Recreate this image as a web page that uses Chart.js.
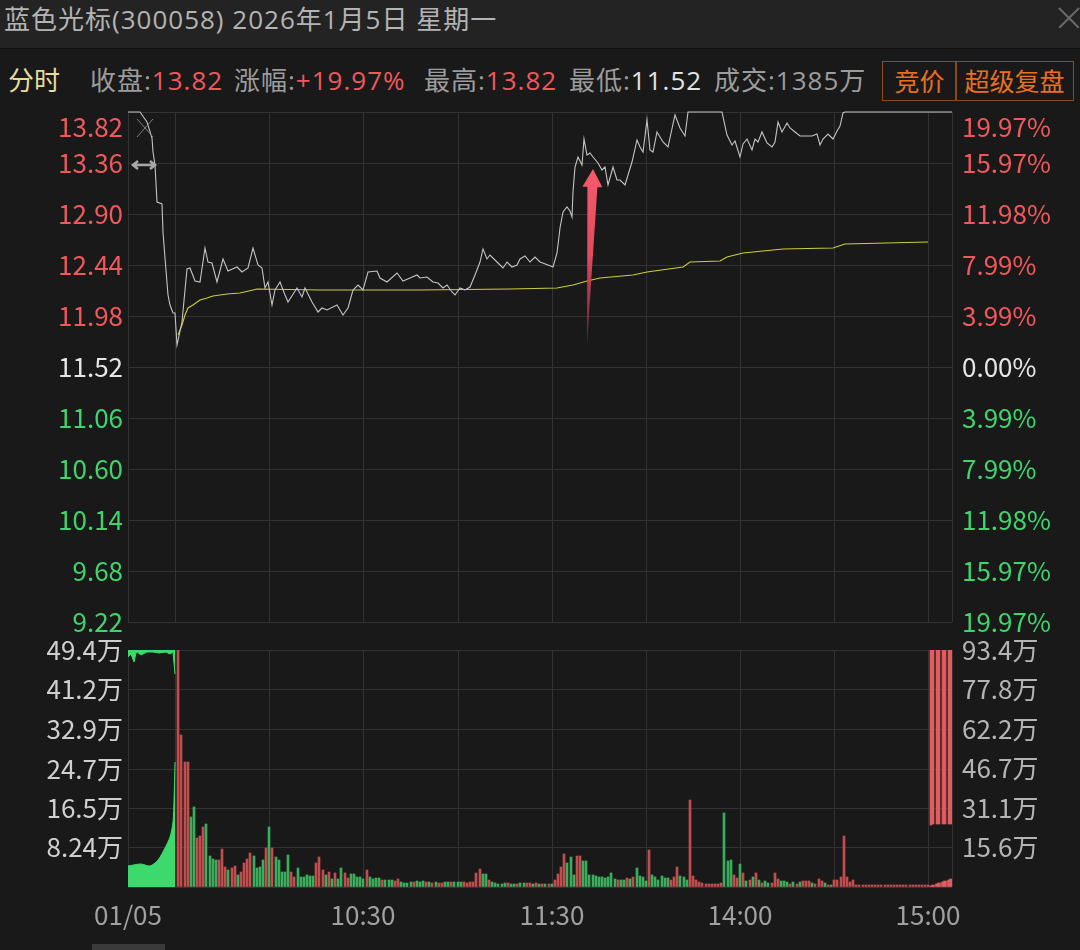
<!DOCTYPE html>
<html>
<head>
<meta charset="utf-8">
<script src="https://cdn.jsdelivr.net/npm/chart.js@4.4.1/dist/chart.umd.min.js"></script>
<style>
body { margin:0; width:1080px; height:950px; overflow:hidden; position:relative; background:#191919;
  font-family:"Open Sans","Noto Sans CJK SC",sans-serif; }
#bar { position:absolute; left:0; top:0; width:1080px; height:48px; background:#232323; border-bottom:1px solid #111; }
#title { position:absolute; left:4px; top:0; line-height:38px; font-size:26px; color:#b4b4b4; white-space:nowrap; letter-spacing:1px; }
.x1, .x2 { position:absolute; left:1055px; top:17px; width:28px; height:1.5px; background:#6a6a6a; }
.x1 { transform:rotate(45deg); } .x2 { transform:rotate(-45deg); }
.info { position:absolute; top:62px; line-height:36px; font-size:26px; color:#9c9c9c; white-space:nowrap; letter-spacing:1px; }
.red { color:#f0585c; } .wht { color:#e4e4e4; }
.box { position:absolute; top:61px; height:38px; line-height:37px; font-size:25px; color:#e8701e;
  border:1px solid #8c4a1c; text-align:center; font-family:"Noto Sans CJK SC",sans-serif; }
#scroll { position:absolute; left:92px; top:944px; width:73px; height:6px; background:#3a3a3a; }
.cv { position:absolute; left:0; }
</style>
</head>
<body>
<div id="bar"><div id="title">蓝色光标(300058) 2026年1月5日 星期一</div><div class="x1"></div><div class="x2"></div></div>
<div class="info" style="left:8px;color:#e6dc9c;letter-spacing:0">分时</div>
<div class="info" style="left:90px">收盘:<span class="red">13.82</span></div>
<div class="info" style="left:234px">涨幅:<span class="red">+19.97%</span></div>
<div class="info" style="left:424px">最高:<span class="red">13.82</span></div>
<div class="info" style="left:569px">最低:<span class="wht">11.52</span></div>
<div class="info" style="left:714px">成交:1385万</div>
<div class="box" style="left:882px;width:73px">竞价</div>
<div class="box" style="left:955px;width:117px">超级复盘</div>
<canvas id="price" class="cv" style="top:100px" width="1080" height="540"></canvas>
<canvas id="volume" class="cv" style="top:625px" width="1080" height="325"></canvas>
<div id="scroll"></div>
<script>
const FONT = '"Noto Sans CJK SC","Microsoft YaHei",sans-serif';
const GRID = '#333333';
const RED = '#c24d4e';
const GREEN = '#3aae5c';

// x axis: minutes from 9:30 (auction drawn in -15..0, after-hours in 240..247.5)
const xGridMin = [-15, 0, 30, 60, 90, 120, 150, 180, 210, 240, 247.5];
const xGridLabel = ['01/05', '', '', '10:30', '', '11:30', '', '14:00', '', '15:00', ''];

const preClose = 11.52;
const priceTicks = [9.22, 9.68, 10.14, 10.60, 11.06, 11.52, 11.98, 12.44, 12.90, 13.36, 13.82];

// price line (auction part first, then trading minutes)
const priceMin = [-15, -11.2, -9, -7.3, -7, -6.4, -5.8, -4.2, -3.8, -3.2, -2.2, -1.6, -0.7, -0.1,
  0.6, 2.2, 3.8, 4.7, 6.3, 7.9, 9.5, 10.5, 11.8, 13.4,
  15.3, 16.9, 19.7, 21.3, 23.2, 24.8, 26.4, 27.7, 28.6, 29.6,
  30.9, 31.8, 33.4, 35, 36, 38.8, 40.4, 41.4, 43.6, 45.5,
  46.8, 48.4, 51.6, 53.4, 55, 56.6, 58.2, 59.8, 61.4, 64.3,
  65.2, 67.5, 70.7, 72.6, 74.8, 77, 78, 80.2, 82.2, 83.7,
  85.3, 86.6, 88.2, 89.1, 90.7, 92.3, 93.9, 95.5, 97.1, 98,
  99.3, 100.3, 102.8, 104.4, 105.7, 107.3, 108.9, 109.9, 111.5, 113.1,
  114.7, 116.2, 118.8, 120.4, 121.7, 122.6, 123.6, 124.8, 125.8, 126.4,
  126.8, 127.4, 128.4, 129.6, 130.2, 131.2, 132.1, 133.1, 134.7, 136,
  137, 137.9, 139.5, 140.8, 141.8, 143.3, 144.3, 145.6, 147.1, 148.1,
  149.1, 150.4, 151.3, 152.3, 153.6, 155.4, 157, 159.3, 160.9, 162.5,
  163.4, 174.2, 175.8, 177.4, 178.3, 179.9, 180.9, 182.2, 183.8, 184.7,
  185.7, 186.9, 188.5, 190.1, 191.1, 192, 193.3, 194.9, 195.8, 197.4,
  199, 201.3, 202.9, 204.5, 205.5, 206.4, 208, 209.6, 210.9, 211.8,
  212.8, 213.5, 247.5];
const priceVal = [13.82, 13.82, 13.73, 13.59, 13.46, 13.34, 13.01, 12.99, 12.74, 12.50, 12.17, 12.08, 12.01, 12.01,
  11.72, 11.93, 12.40, 12.41, 12.30, 12.29, 12.59, 12.47, 12.46, 12.29,
  12.49, 12.39, 12.42, 12.38, 12.41, 12.59, 12.44, 12.41, 12.23, 12.29,
  12.08, 12.21, 12.29, 12.17, 12.11, 12.23, 12.15, 12.23, 12.11, 12.02,
  12.05, 12.03, 12.08, 11.99, 12.05, 12.21, 12.26, 12.21, 12.38, 12.39,
  12.32, 12.29, 12.37, 12.30, 12.32, 12.35, 12.32, 12.33, 12.29, 12.28,
  12.23, 12.26, 12.20, 12.17, 12.23, 12.21, 12.24, 12.35, 12.47, 12.58,
  12.49, 12.53, 12.46, 12.41, 12.47, 12.42, 12.44, 12.49, 12.52, 12.47,
  12.51, 12.47, 12.44, 12.42, 12.55, 12.77, 12.92, 12.96, 12.93, 12.87,
  13.10, 13.32, 13.41, 13.34, 13.58, 13.43, 13.45, 13.41, 13.36, 13.30,
  13.32, 13.16, 13.32, 13.21, 13.21, 13.16, 13.25, 13.37, 13.57, 13.50,
  13.46, 13.75, 13.48, 13.46, 13.64, 13.55, 13.50, 13.79, 13.68, 13.60,
  13.82, 13.82, 13.61, 13.52, 13.56, 13.41, 13.53, 13.58, 13.48, 13.58,
  13.55, 13.64, 13.54, 13.50, 13.55, 13.73, 13.64, 13.72, 13.68, 13.64,
  13.60, 13.60, 13.60, 13.62, 13.52, 13.58, 13.62, 13.58, 13.65, 13.69,
  13.81, 13.82, 13.82];

// average price line
const avgMin = [0.9, 2.2, 3.2, 4.1, 5.7, 7.9, 10.2, 12.1, 16.5, 20.7, 24.8, 26.1, 46.2, 78, 106.7,
  121.7, 126.8, 131.2, 135.3, 145.9, 150.4, 161.8, 164, 173.6, 175.8, 180.9, 193.7, 209.6, 213.5, 240];
const avgVal = [11.81, 11.90, 11.99, 12.05, 12.08, 12.12, 12.14, 12.16, 12.18, 12.19, 12.21, 12.22, 12.21, 12.21, 12.22,
  12.23, 12.26, 12.30, 12.32, 12.35, 12.38, 12.42, 12.47, 12.48, 12.51, 12.55, 12.58, 12.59, 12.63, 12.65];

// arrow annotation [minute, price]
const arrowFrom = [131.2, 11.72];
const arrowTo = [133.1, 13.31];

// volume (万), minute 1..240, up=1 red / 0 green
const volVal = [60, 31.7, 26, 26, 14.6, 16.7, 10.2, 10.6, 12.5, 13.1,
  6.5, 5.8, 5.6, 5.6, 7.9, 4.2, 3.5, 4.0, 4.4, 2.5,
  3.1, 5.0, 5.8, 7.1, 6.5, 4.0, 4.2, 5.6, 8.1, 12.5,
  8.1, 6.3, 5.6, 3.1, 3.1, 6.7, 3.1, 2.1, 4.0, 2.0,
  2.1, 2.5, 2.3, 2.3, 5.0, 6.3, 3.5, 2.5, 3.1, 1.6,
  3.0, 1.6, 4.0, 2.9, 1.8, 2.7, 2.7, 2.1, 2.0, 1.6,
  3.5, 2.0, 1.7, 1.9, 1.9, 1.4, 1.4, 1.4, 1.4, 1.2,
  1.6, 1.0, 0.9, 0.9, 1.0, 1.0, 1.2, 1.0, 1.2, 1.0,
  1.0, 0.9, 1.0, 0.9, 0.8, 1.0, 1.0, 1.0, 1.0, 1.0,
  1.1, 1.0, 0.9, 1.0, 1.0, 2.9, 3.8, 2.8, 2.8, 1.4,
  1.0, 0.8, 0.7, 0.7, 0.8, 0.8, 0.7, 0.6, 0.7, 0.8,
  0.8, 0.9, 0.8, 0.7, 0.8, 0.7, 0.6, 0.6, 0.7, 0.6,
  1.4, 2.7, 4.1, 6.8, 5.1, 6.3, 2.5, 6.4, 6.4, 5.5,
  5.5, 2.5, 2.5, 2.3, 2.0, 2.0, 1.8, 2.0, 3.0, 1.6,
  1.4, 1.4, 1.5, 1.8, 1.6, 2.0, 4.0, 2.3, 2.0, 1.2,
  7.7, 2.5, 2.0, 1.4, 2.3, 1.8, 1.8, 1.5, 2.0, 4.1,
  2.3, 2.0, 1.4, 18.2, 2.2, 1.5, 1.0, 0.8, 0.6, 0.7,
  0.6, 0.7, 0.6, 0.9, 15.5, 5.5, 5.6, 2.5, 1.8, 4.8,
  3.0, 1.2, 1.5, 2.0, 2.9, 1.4, 0.8, 1.2, 0.8, 0.8,
  2.9, 1.7, 1.2, 1.2, 1.0, 0.6, 1.0, 0.6, 1.0, 1.2,
  1.2, 1.2, 0.8, 0.6, 1.6, 1.2, 0.8, 0.5, 0.5, 1.4,
  1.5, 2.0, 10.6, 2.0, 1.0, 1.5, 0.5, 0.4, 0.4, 0.4,
  0.4, 0.4, 0.4, 0.4, 0.4, 0.4, 0.4, 0.4, 0.4, 0.4,
  0.4, 0.4, 0.4, 0.4, 0.4, 0.4, 0.4, 0.4, 0.4, 0.4];
const volUp = [1, 1, 1, 1, 0, 0, 1, 1, 1, 0,
  0, 0, 0, 1, 1, 1, 0, 1, 1, 0,
  1, 1, 1, 1, 0, 0, 0, 0, 1, 0,
  1, 0, 0, 0, 0, 0, 1, 1, 0, 0,
  0, 0, 0, 0, 1, 1, 1, 0, 1, 0,
  1, 0, 0, 1, 1, 0, 0, 0, 0, 0,
  1, 0, 0, 0, 0, 1, 0, 0, 0, 1,
  1, 0, 0, 0, 0, 1, 0, 0, 0, 1,
  0, 1, 0, 1, 1, 0, 0, 1, 0, 0,
  0, 1, 1, 1, 1, 1, 1, 0, 0, 1,
  0, 0, 0, 0, 0, 1, 0, 0, 1, 0,
  0, 1, 1, 0, 1, 0, 1, 0, 1, 0,
  1, 1, 1, 1, 0, 0, 0, 1, 1, 0,
  0, 0, 0, 0, 0, 0, 0, 0, 0, 0,
  1, 0, 0, 1, 0, 1, 0, 0, 0, 0,
  1, 0, 0, 0, 0, 0, 0, 1, 1, 1,
  0, 0, 0, 1, 1, 1, 1, 1, 1, 1,
  1, 1, 1, 1, 0, 0, 0, 1, 1, 0,
  1, 0, 1, 0, 1, 0, 1, 0, 0, 1,
  1, 1, 0, 0, 0, 1, 0, 1, 0, 1,
  1, 1, 0, 1, 1, 1, 0, 1, 0, 1,
  1, 1, 1, 1, 1, 1, 1, 1, 1, 1,
  1, 1, 1, 1, 1, 1, 1, 1, 1, 1,
  1, 1, 1, 1, 1, 1, 1, 1, 1, 1];

// call auction volume (matched, from bottom) and unmatched (from top)
const aucMin = [-15, -11, -8, -5.5, -3.2, -1.6, -0.7, -0.4, -0.1];
const aucVol = [4.4, 4.8, 4.4, 5.6, 8.1, 10.4, 13.5, 18, 26];
const aucTopMin = [-15, -14, -13, -12.5, -12, -11, -9, -7, -5, -3, -1.5, -0.6, -0.1];
const aucTopVol = [48.0, 48.6, 46.8, 48.7, 49.0, 48.4, 49.0, 48.9, 48.7, 49.0, 48.6, 49.0, 44.5];

// after-hours fixed-price trading
const ahMin = [240.7, 241.6, 242.6, 243.5, 244.5, 245.4, 246.4, 247.2];
const ahTop = [13.0, 13.2, 13.2, 13.2, 13.1, 13.2, 13.2, 13.2];
const ahBase = [0.3, 0.5, 0.7, 0.9, 1.0, 1.2, 1.4, 1.6];

const volTicksL = [0, 8.24, 16.5, 24.7, 32.9, 41.2, 49.4];
const volTicksR = [0, 15.6, 31.1, 46.7, 62.2, 77.8, 93.4];

function pts(xs, ys) { return xs.map((x, i) => ({ x: x, y: ys[i] })); }
function fixW(w) { return s => { s.width = w; s.paddingTop = 0; s.paddingBottom = 0; }; }

const arrowPlugin = {
  id: 'arrow',
  afterDatasetsDraw(chart) {
    const { ctx, scales: { x, y }, chartArea: a } = chart;
    // auction icons
    ctx.save();
    ctx.strokeStyle = '#808080'; ctx.lineWidth = 1;
    ctx.beginPath();
    ctx.moveTo(a.left + 9, a.top + 7); ctx.lineTo(a.left + 25, a.top + 25);
    ctx.moveTo(a.left + 25, a.top + 7); ctx.lineTo(a.left + 9, a.top + 25);
    ctx.stroke();
    ctx.strokeStyle = '#a8a8a8'; ctx.lineWidth = 2.5;
    const cy = a.top + 53;
    ctx.beginPath();
    ctx.moveTo(a.left + 5, cy); ctx.lineTo(a.left + 27, cy);
    ctx.moveTo(a.left + 10, cy - 4); ctx.lineTo(a.left + 5, cy); ctx.lineTo(a.left + 10, cy + 4);
    ctx.moveTo(a.left + 22, cy - 4); ctx.lineTo(a.left + 27, cy); ctx.lineTo(a.left + 22, cy + 4);
    ctx.stroke();
    ctx.restore();
    // red arrow
    const bx = x.getPixelForValue(arrowFrom[0]), by = y.getPixelForValue(arrowFrom[1]);
    const tx = x.getPixelForValue(arrowTo[0]), ty = y.getPixelForValue(arrowTo[1]);
    const len = Math.hypot(tx - bx, ty - by);
    ctx.save();
    ctx.translate(bx, by);
    ctx.rotate(Math.atan2(ty - by, tx - bx));
    const g = ctx.createLinearGradient(0, 0, len, 0);
    g.addColorStop(0, 'rgba(170,50,70,0.55)');
    g.addColorStop(0.5, '#e24a5e');
    g.addColorStop(1, '#f45a6a');
    ctx.fillStyle = g;
    ctx.beginPath();
    ctx.moveTo(0, 0);
    ctx.lineTo(len - 18, -5);
    ctx.lineTo(len - 18, -10);
    ctx.lineTo(len, 0);
    ctx.lineTo(len - 18, 10);
    ctx.lineTo(len - 18, 5);
    ctx.closePath();
    ctx.fill();
    ctx.restore();
  }
};

const xBase = {
  type: 'linear', min: -15, max: 247.5, offset: false, alignToPixels: true,
  afterBuildTicks: s => { s.ticks = xGridMin.map(v => ({ value: v })); },
  grid: { color: GRID, drawTicks: false, offset: false },
  border: { display: false }
};

function priceColor(c) {
  const v = c.tick.value;
  return v > preClose + 1e-6 ? '#f0585c' : (v < preClose - 1e-6 ? '#3fd46c' : '#e6e6e6');
}

new Chart(document.getElementById('price'), {
  type: 'line',
  data: {
    datasets: [
      { data: pts(priceMin, priceVal), borderColor: '#c4c4c4', borderWidth: 1.1, pointRadius: 0, tension: 0, clip: 6 },
      { data: pts(avgMin, avgVal), borderColor: '#cdcd3a', borderWidth: 1.1, pointRadius: 0, tension: 0 }
    ]
  },
  options: {
    responsive: false, animation: false, events: [], devicePixelRatio: 1,
    layout: { padding: { top: 12, bottom: 18, left: 0, right: 0 } },
    plugins: { legend: { display: false }, tooltip: { enabled: false } },
    scales: {
      x: Object.assign({}, xBase, {
        ticks: { display: false },
        afterFit: s => { s.height = 0; s.paddingLeft = 0; s.paddingRight = 0; }
      }),
      y: {
        position: 'left', min: 9.22, max: 13.82, alignToPixels: true,
        afterBuildTicks: s => { s.ticks = priceTicks.map(v => ({ value: v })); },
        ticks: {
          autoSkip: false, padding: 5, font: { size: 26, family: FONT }, color: priceColor,
          callback: (v, i, t) => i === t.length - 1 ? ['', v.toFixed(2)] : v.toFixed(2)
        },
        grid: { color: GRID, drawTicks: false },
        border: { display: false },
        afterFit: fixW(128)
      },
      y2: {
        position: 'right', min: 9.22, max: 13.82,
        afterBuildTicks: s => { s.ticks = priceTicks.map(v => ({ value: v })); },
        ticks: {
          autoSkip: false, padding: 2, font: { size: 26, family: FONT }, color: priceColor,
          callback: (v, i, t) => {
            const s = Math.abs((v - preClose) / preClose * 100).toFixed(2) + '%';
            return i === t.length - 1 ? ['', s] : s;
          }
        },
        grid: { display: false },
        border: { display: false },
        afterFit: fixW(128)
      }
    }
  },
  plugins: [arrowPlugin]
});

new Chart(document.getElementById('volume'), {
  type: 'bar',
  data: {
    datasets: [
      { type: 'bar', data: volVal.map((v, i) => ({ x: i + 1, y: v })), grouped: false,
        backgroundColor: volUp.map(u => u ? RED : GREEN), barThickness: 2 },
      { type: 'bar', data: ahMin.map((m, i) => ({ x: m, y: [ahTop[i], 49.4] })), grouped: false,
        backgroundColor: '#e05c5e', barThickness: 2 },
      { type: 'bar', data: pts(ahMin, ahBase), grouped: false, backgroundColor: '#e05c5e', barThickness: 3 },
      { type: 'line', data: pts(aucMin, aucVol), fill: 'origin', backgroundColor: '#3ed96c',
        borderColor: '#3ed96c', borderWidth: 1, pointRadius: 0, tension: 0.3 },
      { type: 'line', data: pts(aucTopMin, aucTopVol), fill: 'end', backgroundColor: '#3ed96c',
        borderColor: '#3ed96c', borderWidth: 1, pointRadius: 0, tension: 0 }
    ]
  },
  options: {
    responsive: false, animation: false, events: [], devicePixelRatio: 1,
    layout: { padding: { top: 25, bottom: 0, left: 0, right: 0 } },
    plugins: { legend: { display: false }, tooltip: { enabled: false } },
    scales: {
      x: Object.assign({}, xBase, {
        ticks: { autoSkip: false, maxRotation: 0, padding: 13, color: '#a0a0a0',
          font: { size: 26, family: FONT }, callback: (v, i) => xGridLabel[i] },
        afterFit: s => { s.height = 63; s.paddingLeft = 0; s.paddingRight = 0; }
      }),
      y: {
        position: 'left', min: 0, max: 49.4, alignToPixels: true,
        afterBuildTicks: s => { s.ticks = volTicksL.map(v => ({ value: v })); },
        ticks: { autoSkip: false, padding: 5, color: '#cfcfcf', font: { size: 26, family: FONT },
          callback: v => v === 0 ? '' : v + '万' },
        grid: { color: GRID, drawTicks: false },
        border: { display: false },
        afterFit: fixW(128)
      },
      y2: {
        position: 'right', min: 0, max: 93.4,
        afterBuildTicks: s => { s.ticks = volTicksR.map(v => ({ value: v })); },
        ticks: { autoSkip: false, padding: 2, color: '#b4b4b4', font: { size: 26, family: FONT },
          callback: v => v === 0 ? '' : v + '万' },
        grid: { display: false },
        border: { display: false },
        afterFit: fixW(128)
      }
    }
  }
});
</script>
</body>
</html>
